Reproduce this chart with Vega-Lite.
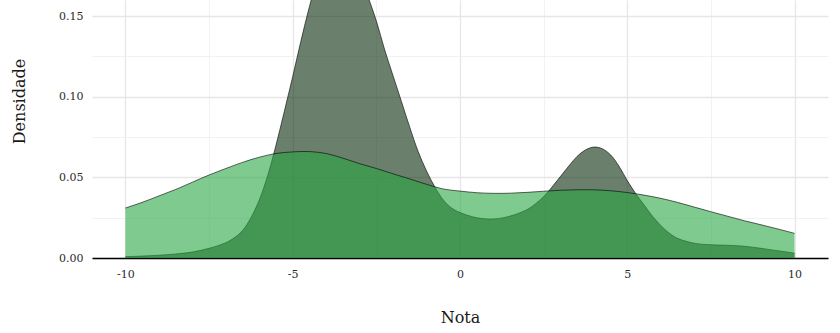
{
  "$schema": "https://vega.github.io/schema/vega-lite/v6.json",
  "width": 736,
  "height": 258,
  "autosize": {"type": "none"},
  "padding": {"left": 92, "top": 0, "right": 12, "bottom": 75},
  "background": "white",
  "config": {
    "view": {"stroke": null},
    "font": "DejaVu Serif"
  },
  "datasets": {
    "escura": [
      {"nota": -10, "densidade": 0.0008},
      {"nota": -9.5, "densidade": 0.0012},
      {"nota": -9, "densidade": 0.0017},
      {"nota": -8.5, "densidade": 0.0025},
      {"nota": -8, "densidade": 0.0037},
      {"nota": -7.5, "densidade": 0.006},
      {"nota": -7, "densidade": 0.0095},
      {"nota": -6.75, "densidade": 0.0125},
      {"nota": -6.5, "densidade": 0.017},
      {"nota": -6.25, "densidade": 0.025},
      {"nota": -6, "densidade": 0.036},
      {"nota": -5.75, "densidade": 0.051},
      {"nota": -5.5, "densidade": 0.07},
      {"nota": -5.25, "densidade": 0.091},
      {"nota": -5, "densidade": 0.1126},
      {"nota": -4.75, "densidade": 0.135},
      {"nota": -4.5, "densidade": 0.156},
      {"nota": -4.25, "densidade": 0.174},
      {"nota": -4, "densidade": 0.187},
      {"nota": -3.75, "densidade": 0.193},
      {"nota": -3.5, "densidade": 0.193},
      {"nota": -3.25, "densidade": 0.187},
      {"nota": -3, "densidade": 0.176},
      {"nota": -2.75, "densidade": 0.162},
      {"nota": -2.5, "densidade": 0.147},
      {"nota": -2.25, "densidade": 0.129},
      {"nota": -2, "densidade": 0.113},
      {"nota": -1.75, "densidade": 0.097},
      {"nota": -1.5, "densidade": 0.081},
      {"nota": -1.25, "densidade": 0.066},
      {"nota": -1, "densidade": 0.054},
      {"nota": -0.75, "densidade": 0.044},
      {"nota": -0.5, "densidade": 0.036},
      {"nota": -0.25, "densidade": 0.031},
      {"nota": 0, "densidade": 0.0282},
      {"nota": 0.5, "densidade": 0.025},
      {"nota": 1, "densidade": 0.0242},
      {"nota": 1.5, "densidade": 0.026},
      {"nota": 2, "densidade": 0.03},
      {"nota": 2.25, "densidade": 0.0335},
      {"nota": 2.5, "densidade": 0.038},
      {"nota": 2.75, "densidade": 0.044},
      {"nota": 3, "densidade": 0.0505},
      {"nota": 3.25, "densidade": 0.057},
      {"nota": 3.5, "densidade": 0.063},
      {"nota": 3.75, "densidade": 0.067},
      {"nota": 4, "densidade": 0.0688},
      {"nota": 4.25, "densidade": 0.0678},
      {"nota": 4.5, "densidade": 0.064},
      {"nota": 4.75, "densidade": 0.057},
      {"nota": 5, "densidade": 0.048},
      {"nota": 5.25, "densidade": 0.04},
      {"nota": 5.5, "densidade": 0.033},
      {"nota": 5.75, "densidade": 0.026},
      {"nota": 6, "densidade": 0.0202},
      {"nota": 6.25, "densidade": 0.0155},
      {"nota": 6.5, "densidade": 0.0122},
      {"nota": 7, "densidade": 0.0092},
      {"nota": 7.5, "densidade": 0.0082},
      {"nota": 8, "densidade": 0.0079},
      {"nota": 8.5, "densidade": 0.0073},
      {"nota": 9, "densidade": 0.006},
      {"nota": 9.5, "densidade": 0.0045},
      {"nota": 10, "densidade": 0.003}
    ],
    "clara": [
      {"nota": -10, "densidade": 0.031},
      {"nota": -9.5, "densidade": 0.0345},
      {"nota": -9, "densidade": 0.0385},
      {"nota": -8.5, "densidade": 0.0425},
      {"nota": -8, "densidade": 0.047},
      {"nota": -7.5, "densidade": 0.0515},
      {"nota": -7, "densidade": 0.0555},
      {"nota": -6.5, "densidade": 0.0593},
      {"nota": -6, "densidade": 0.0625},
      {"nota": -5.5, "densidade": 0.0648},
      {"nota": -5, "densidade": 0.0658},
      {"nota": -4.5, "densidade": 0.066},
      {"nota": -4, "densidade": 0.0648},
      {"nota": -3.5, "densidade": 0.0619},
      {"nota": -3, "densidade": 0.0585},
      {"nota": -2.5, "densidade": 0.0555},
      {"nota": -2, "densidade": 0.0522},
      {"nota": -1.5, "densidade": 0.049},
      {"nota": -1, "densidade": 0.0457},
      {"nota": -0.5, "densidade": 0.0428},
      {"nota": 0, "densidade": 0.0415},
      {"nota": 0.5, "densidade": 0.0405},
      {"nota": 1, "densidade": 0.0401},
      {"nota": 1.5, "densidade": 0.0402},
      {"nota": 2, "densidade": 0.0407},
      {"nota": 2.5, "densidade": 0.0414},
      {"nota": 3, "densidade": 0.042},
      {"nota": 3.5, "densidade": 0.0423},
      {"nota": 4, "densidade": 0.0423},
      {"nota": 4.5, "densidade": 0.0417},
      {"nota": 5, "densidade": 0.0406},
      {"nota": 5.5, "densidade": 0.039},
      {"nota": 6, "densidade": 0.037},
      {"nota": 6.5, "densidade": 0.0345},
      {"nota": 7, "densidade": 0.0316},
      {"nota": 7.5, "densidade": 0.0287},
      {"nota": 8, "densidade": 0.0259},
      {"nota": 8.5, "densidade": 0.0231},
      {"nota": 9, "densidade": 0.0206},
      {"nota": 9.5, "densidade": 0.018},
      {"nota": 10, "densidade": 0.0153}
    ]
  },
  "encoding": {
    "x": {
      "field": "nota",
      "type": "quantitative",
      "scale": {"domain": [-11, 11], "nice": false, "zero": false},
      "axis": {
        "title": "Nota",
        "values": [-10, -7.5, -5, -2.5, 0, 2.5, 5, 7.5, 10],
        "labelExpr": "datum.value % 5 === 0 ? '' + datum.value : ''",
        "labelFlush": false,
        "labelOverlap": false,
        "labelFont": "DejaVu Serif",
        "labelFontSize": 11,
        "labelColor": "#2b2b2b",
        "labelPadding": 10,
        "ticks": false,
        "tickSize": 0,
        "domain": true,
        "domainColor": "#000000",
        "domainWidth": 1.6,
        "grid": true,
        "gridColor": {"condition": {"test": "datum.value % 5 === 0", "value": "#e6e6e6"}, "value": "#ececec"},
        "gridWidth": {"condition": {"test": "datum.value % 5 === 0", "value": 1.3}, "value": 0.7},
        "titleFont": "DejaVu Serif",
        "titleFontSize": 16,
        "titleFontWeight": "normal",
        "titleColor": "#1a1a1a",
        "titleBaseline": "alphabetic",
        "titleY": 64
      }
    },
    "y": {
      "field": "densidade",
      "type": "quantitative",
      "scale": {"domain": [0, 0.16], "nice": false},
      "axis": {
        "title": "Densidade",
        "values": [0, 0.025, 0.05, 0.075, 0.1, 0.125, 0.15],
        "labelExpr": "round(datum.value * 1000) % 50 === 0 ? format(datum.value, '.2f') : ''",
        "labelOverlap": false,
        "labelFont": "DejaVu Serif",
        "labelFontSize": 11,
        "labelColor": "#2b2b2b",
        "labelPadding": 9,
        "ticks": false,
        "tickSize": 0,
        "domain": false,
        "grid": true,
        "gridColor": {"condition": {"test": "round(datum.value * 1000) % 50 === 0", "value": "#e6e6e6"}, "value": "#ececec"},
        "gridWidth": {"condition": {"test": "round(datum.value * 1000) % 50 === 0", "value": 1.3}, "value": 0.7},
        "titleFont": "DejaVu Serif",
        "titleFontSize": 16,
        "titleFontWeight": "normal",
        "titleColor": "#1a1a1a",
        "titleAngle": -90,
        "titleAlign": "center",
        "titleBaseline": "middle",
        "titleX": -73,
        "titleY": 101
      }
    }
  },
  "layer": [
    {
      "data": {"name": "escura"},
      "mark": {"type": "area", "clip": true, "interpolate": "catmull-rom", "fill": "#072b0c", "fillOpacity": 0.6, "stroke": null}
    },
    {
      "data": {"name": "escura"},
      "mark": {"type": "line", "clip": true, "interpolate": "catmull-rom", "color": "#000000", "strokeWidth": 0.6}
    },
    {
      "data": {"name": "clara"},
      "mark": {"type": "area", "clip": true, "interpolate": "catmull-rom", "fill": "#2aa743", "fillOpacity": 0.6, "stroke": null}
    },
    {
      "data": {"name": "clara"},
      "mark": {"type": "line", "clip": true, "interpolate": "catmull-rom", "color": "#000000", "strokeWidth": 0.6}
    }
  ]
}
